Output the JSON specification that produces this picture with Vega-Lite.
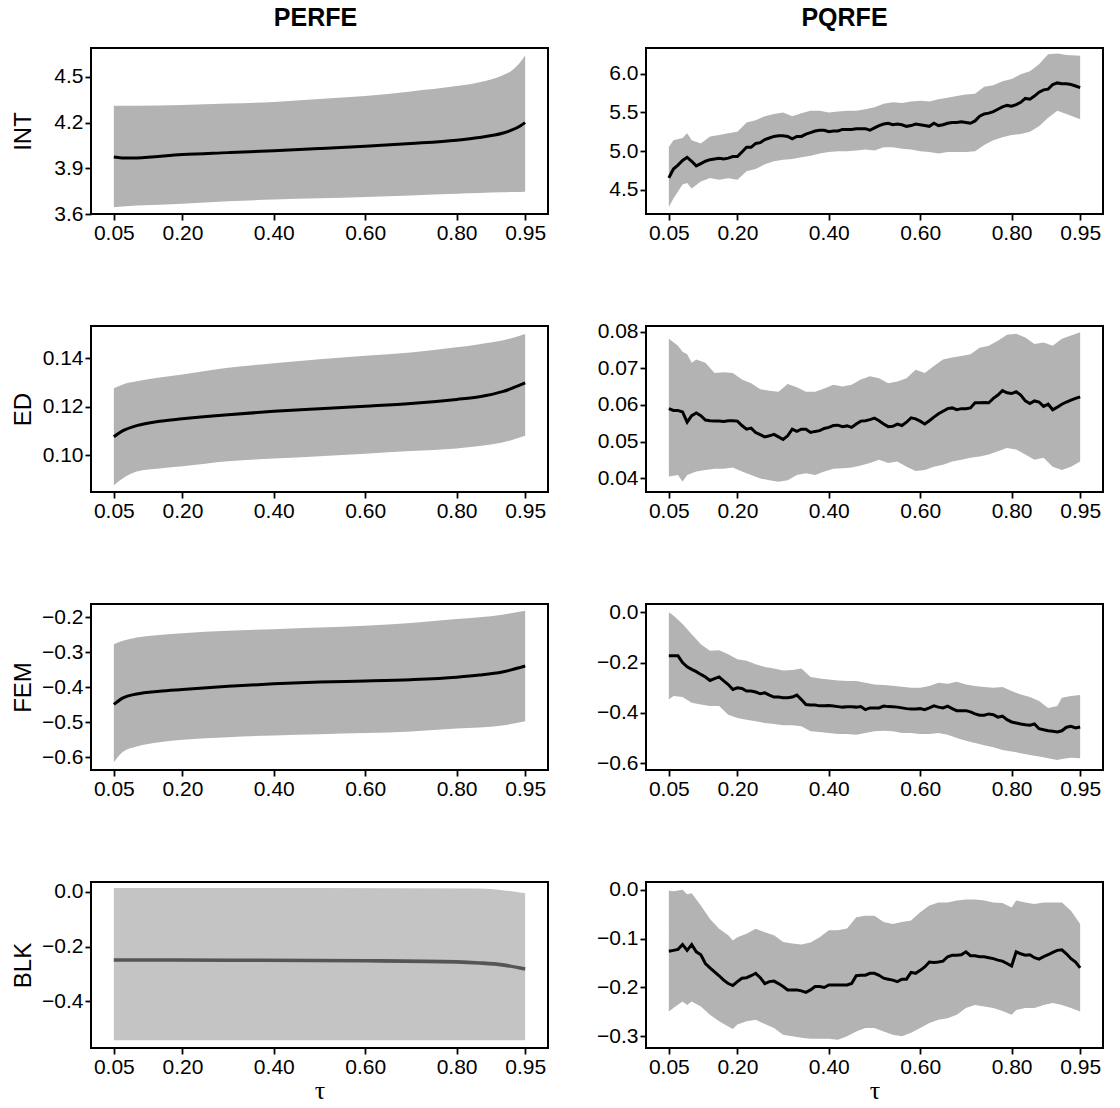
{
"$schema": "https://vega.github.io/schema/vega-lite/v6.json",
"padding": {"left": 10, "top": 5, "right": 5, "bottom": 3},
"bounds": "flush",
"columns": 2,
"spacing": {"row": 112, "column": 98},
"config": {
 "font": "Liberation Sans",
 "view": {"stroke": "black", "strokeWidth": 2},
 "axis": {"domain": false, "grid": false, "tickColor": "black", "tickSize": 6, "tickWidth": 1.8, "labelFont": "Liberation Sans", "labelFontSize": 21, "labelColor": "black", "labelFlush": false, "labelOverlap": false, "labelPadding": 2, "titleColor": "black", "titleFontWeight": "normal"},
 "axisY": {"titleFont": "Liberation Sans", "titleFontSize": 24, "titleX": -68, "titleY": 83, "titleBaseline": "middle", "titleAngle": 270, "titleAlign": "center"},
 "axisX": {"titleFont": "Liberation Serif", "titleFontSize": 26, "titlePadding": 0},
 "title": {"font": "Liberation Sans", "fontSize": 25, "fontWeight": "bold", "color": "black", "baseline": "alphabetic", "offset": 17}
},
"datasets": {
 "band": [
  {"panel":"IP","tau":0.05,"lo":3.645,"hi":4.31},{"panel":"IP","tau":0.1,"lo":3.655,"hi":4.31},{"panel":"IP","tau":0.2,"lo":3.668,"hi":4.315},{"panel":"IP","tau":0.3,"lo":3.683,"hi":4.325},{"panel":"IP","tau":0.4,"lo":3.695,"hi":4.335},{"panel":"IP","tau":0.5,"lo":3.703,"hi":4.355},{"panel":"IP","tau":0.6,"lo":3.712,"hi":4.375},{"panel":"IP","tau":0.7,"lo":3.722,"hi":4.405},{"panel":"IP","tau":0.8,"lo":3.733,"hi":4.44},{"panel":"IP","tau":0.85,"lo":3.738,"hi":4.465},{"panel":"IP","tau":0.9,"lo":3.742,"hi":4.51},{"panel":"IP","tau":0.92,"lo":3.744,"hi":4.54},{"panel":"IP","tau":0.94,"lo":3.745,"hi":4.6},{"panel":"IP","tau":0.95,"lo":3.746,"hi":4.64},
  {"panel":"EP","tau":0.05,"lo":0.0876,"hi":0.1276},{"panel":"EP","tau":0.07,"lo":0.0905,"hi":0.1292},{"panel":"EP","tau":0.1,"lo":0.0933,"hi":0.1305},{"panel":"EP","tau":0.15,"lo":0.0945,"hi":0.132},{"panel":"EP","tau":0.2,"lo":0.0954,"hi":0.1333},{"panel":"EP","tau":0.3,"lo":0.0975,"hi":0.1361},{"panel":"EP","tau":0.4,"lo":0.0986,"hi":0.1379},{"panel":"EP","tau":0.5,"lo":0.0996,"hi":0.1396},{"panel":"EP","tau":0.6,"lo":0.1006,"hi":0.141},{"panel":"EP","tau":0.7,"lo":0.1017,"hi":0.1424},{"panel":"EP","tau":0.8,"lo":0.1028,"hi":0.1445},{"panel":"EP","tau":0.85,"lo":0.1038,"hi":0.1458},{"panel":"EP","tau":0.9,"lo":0.1052,"hi":0.1473},{"panel":"EP","tau":0.95,"lo":0.108,"hi":0.15},
  {"panel":"FP","tau":0.05,"lo":-0.614,"hi":-0.2767},{"panel":"FP","tau":0.07,"lo":-0.584,"hi":-0.267},{"panel":"FP","tau":0.1,"lo":-0.569,"hi":-0.2575},{"panel":"FP","tau":0.15,"lo":-0.557,"hi":-0.25},{"panel":"FP","tau":0.2,"lo":-0.55,"hi":-0.245},{"panel":"FP","tau":0.3,"lo":-0.5425,"hi":-0.238},{"panel":"FP","tau":0.4,"lo":-0.5376,"hi":-0.2336},{"panel":"FP","tau":0.5,"lo":-0.534,"hi":-0.229},{"panel":"FP","tau":0.6,"lo":-0.531,"hi":-0.224},{"panel":"FP","tau":0.7,"lo":-0.526,"hi":-0.2163},{"panel":"FP","tau":0.8,"lo":-0.518,"hi":-0.2048},{"panel":"FP","tau":0.9,"lo":-0.509,"hi":-0.192},{"panel":"FP","tau":0.95,"lo":-0.497,"hi":-0.181},
  {"panel":"BP","tau":0.05,"lo":-0.543,"hi":0.014},{"panel":"BP","tau":0.5,"lo":-0.543,"hi":0.014},{"panel":"BP","tau":0.85,"lo":-0.543,"hi":0.012},{"panel":"BP","tau":0.9,"lo":-0.543,"hi":0.006},{"panel":"BP","tau":0.95,"lo":-0.543,"hi":-0.005},
  {"panel":"IQ","tau":0.05,"lo":4.28,"hi":5.055},{"panel":"IQ","tau":0.06,"lo":4.39,"hi":5.14},{"panel":"IQ","tau":0.08,"lo":4.57,"hi":5.17},{"panel":"IQ","tau":0.09,"lo":4.59,"hi":5.23},{"panel":"IQ","tau":0.1,"lo":4.52,"hi":5.14},{"panel":"IQ","tau":0.12,"lo":4.61,"hi":5.1},{"panel":"IQ","tau":0.14,"lo":4.655,"hi":5.19},{"panel":"IQ","tau":0.16,"lo":4.63,"hi":5.21},{"panel":"IQ","tau":0.18,"lo":4.65,"hi":5.23},{"panel":"IQ","tau":0.2,"lo":4.63,"hi":5.25},{"panel":"IQ","tau":0.22,"lo":4.74,"hi":5.37},{"panel":"IQ","tau":0.24,"lo":4.77,"hi":5.4},{"panel":"IQ","tau":0.26,"lo":4.83,"hi":5.45},{"panel":"IQ","tau":0.28,"lo":4.87,"hi":5.48},{"panel":"IQ","tau":0.3,"lo":4.89,"hi":5.5},{"panel":"IQ","tau":0.32,"lo":4.9,"hi":5.45},{"panel":"IQ","tau":0.34,"lo":4.92,"hi":5.49},{"panel":"IQ","tau":0.36,"lo":4.94,"hi":5.52},{"panel":"IQ","tau":0.38,"lo":4.97,"hi":5.52},{"panel":"IQ","tau":0.4,"lo":4.99,"hi":5.5},{"panel":"IQ","tau":0.42,"lo":5.0,"hi":5.51},{"panel":"IQ","tau":0.44,"lo":5.0,"hi":5.52},{"panel":"IQ","tau":0.46,"lo":5.01,"hi":5.52},{"panel":"IQ","tau":0.48,"lo":5.02,"hi":5.54},{"panel":"IQ","tau":0.5,"lo":5.01,"hi":5.565},{"panel":"IQ","tau":0.52,"lo":5.05,"hi":5.61},{"panel":"IQ","tau":0.54,"lo":5.05,"hi":5.63},{"panel":"IQ","tau":0.56,"lo":5.03,"hi":5.62},{"panel":"IQ","tau":0.58,"lo":5.02,"hi":5.64},{"panel":"IQ","tau":0.6,"lo":5.0,"hi":5.65},{"panel":"IQ","tau":0.62,"lo":4.99,"hi":5.64},{"panel":"IQ","tau":0.64,"lo":4.97,"hi":5.67},{"panel":"IQ","tau":0.66,"lo":4.99,"hi":5.69},{"panel":"IQ","tau":0.68,"lo":4.99,"hi":5.71},{"panel":"IQ","tau":0.7,"lo":4.99,"hi":5.73},{"panel":"IQ","tau":0.72,"lo":5.0,"hi":5.74},{"panel":"IQ","tau":0.74,"lo":5.08,"hi":5.83},{"panel":"IQ","tau":0.76,"lo":5.14,"hi":5.85},{"panel":"IQ","tau":0.78,"lo":5.18,"hi":5.9},{"panel":"IQ","tau":0.8,"lo":5.21,"hi":5.93},{"panel":"IQ","tau":0.82,"lo":5.22,"hi":5.99},{"panel":"IQ","tau":0.84,"lo":5.25,"hi":6.03},{"panel":"IQ","tau":0.86,"lo":5.32,"hi":6.12},{"panel":"IQ","tau":0.88,"lo":5.43,"hi":6.25},{"panel":"IQ","tau":0.9,"lo":5.52,"hi":6.26},{"panel":"IQ","tau":0.92,"lo":5.48,"hi":6.24},{"panel":"IQ","tau":0.95,"lo":5.41,"hi":6.23},
  {"panel":"EQ","tau":0.05,"lo":0.0405,"hi":0.078},{"panel":"EQ","tau":0.07,"lo":0.0409,"hi":0.0761},{"panel":"EQ","tau":0.08,"lo":0.0391,"hi":0.0745},{"panel":"EQ","tau":0.09,"lo":0.0409,"hi":0.0738},{"panel":"EQ","tau":0.1,"lo":0.0414,"hi":0.0715},{"panel":"EQ","tau":0.11,"lo":0.0419,"hi":0.0724},{"panel":"EQ","tau":0.13,"lo":0.0423,"hi":0.0715},{"panel":"EQ","tau":0.15,"lo":0.0426,"hi":0.0687},{"panel":"EQ","tau":0.17,"lo":0.0426,"hi":0.0689},{"panel":"EQ","tau":0.19,"lo":0.043,"hi":0.0687},{"panel":"EQ","tau":0.21,"lo":0.0419,"hi":0.0669},{"panel":"EQ","tau":0.23,"lo":0.0409,"hi":0.0659},{"panel":"EQ","tau":0.25,"lo":0.04,"hi":0.0643},{"panel":"EQ","tau":0.27,"lo":0.0395,"hi":0.0639},{"panel":"EQ","tau":0.29,"lo":0.0391,"hi":0.0636},{"panel":"EQ","tau":0.31,"lo":0.0395,"hi":0.0657},{"panel":"EQ","tau":0.33,"lo":0.0409,"hi":0.0648},{"panel":"EQ","tau":0.35,"lo":0.0414,"hi":0.0636},{"panel":"EQ","tau":0.37,"lo":0.0409,"hi":0.0636},{"panel":"EQ","tau":0.39,"lo":0.0419,"hi":0.0645},{"panel":"EQ","tau":0.41,"lo":0.0426,"hi":0.0655},{"panel":"EQ","tau":0.43,"lo":0.0428,"hi":0.065},{"panel":"EQ","tau":0.45,"lo":0.043,"hi":0.0655},{"panel":"EQ","tau":0.47,"lo":0.0435,"hi":0.0669},{"panel":"EQ","tau":0.49,"lo":0.0442,"hi":0.0678},{"panel":"EQ","tau":0.51,"lo":0.0451,"hi":0.0673},{"panel":"EQ","tau":0.53,"lo":0.0442,"hi":0.0659},{"panel":"EQ","tau":0.55,"lo":0.0446,"hi":0.0664},{"panel":"EQ","tau":0.57,"lo":0.0432,"hi":0.0673},{"panel":"EQ","tau":0.59,"lo":0.042,"hi":0.0696},{"panel":"EQ","tau":0.61,"lo":0.0423,"hi":0.0687},{"panel":"EQ","tau":0.63,"lo":0.0432,"hi":0.0706},{"panel":"EQ","tau":0.65,"lo":0.0437,"hi":0.0724},{"panel":"EQ","tau":0.67,"lo":0.0446,"hi":0.0729},{"panel":"EQ","tau":0.69,"lo":0.0451,"hi":0.0733},{"panel":"EQ","tau":0.71,"lo":0.0456,"hi":0.0738},{"panel":"EQ","tau":0.73,"lo":0.046,"hi":0.0756},{"panel":"EQ","tau":0.75,"lo":0.0465,"hi":0.0761},{"panel":"EQ","tau":0.77,"lo":0.0474,"hi":0.0775},{"panel":"EQ","tau":0.79,"lo":0.0483,"hi":0.0791},{"panel":"EQ","tau":0.81,"lo":0.0479,"hi":0.0794},{"panel":"EQ","tau":0.83,"lo":0.0465,"hi":0.0784},{"panel":"EQ","tau":0.85,"lo":0.0451,"hi":0.0766},{"panel":"EQ","tau":0.87,"lo":0.0456,"hi":0.077},{"panel":"EQ","tau":0.89,"lo":0.0432,"hi":0.0761},{"panel":"EQ","tau":0.91,"lo":0.0423,"hi":0.078},{"panel":"EQ","tau":0.93,"lo":0.0432,"hi":0.0789},{"panel":"EQ","tau":0.95,"lo":0.0446,"hi":0.0798},
  {"panel":"FQ","tau":0.05,"lo":-0.347,"hi":0.0},{"panel":"FQ","tau":0.06,"lo":-0.333,"hi":-0.013},{"panel":"FQ","tau":0.08,"lo":-0.337,"hi":-0.047},{"panel":"FQ","tau":0.1,"lo":-0.36,"hi":-0.087},{"panel":"FQ","tau":0.12,"lo":-0.367,"hi":-0.127},{"panel":"FQ","tau":0.14,"lo":-0.373,"hi":-0.153},{"panel":"FQ","tau":0.16,"lo":-0.373,"hi":-0.151},{"panel":"FQ","tau":0.18,"lo":-0.407,"hi":-0.167},{"panel":"FQ","tau":0.2,"lo":-0.42,"hi":-0.187},{"panel":"FQ","tau":0.22,"lo":-0.427,"hi":-0.193},{"panel":"FQ","tau":0.24,"lo":-0.433,"hi":-0.207},{"panel":"FQ","tau":0.26,"lo":-0.44,"hi":-0.217},{"panel":"FQ","tau":0.28,"lo":-0.444,"hi":-0.223},{"panel":"FQ","tau":0.3,"lo":-0.449,"hi":-0.231},{"panel":"FQ","tau":0.32,"lo":-0.449,"hi":-0.229},{"panel":"FQ","tau":0.34,"lo":-0.453,"hi":-0.223},{"panel":"FQ","tau":0.36,"lo":-0.473,"hi":-0.257},{"panel":"FQ","tau":0.38,"lo":-0.476,"hi":-0.263},{"panel":"FQ","tau":0.4,"lo":-0.48,"hi":-0.267},{"panel":"FQ","tau":0.42,"lo":-0.484,"hi":-0.271},{"panel":"FQ","tau":0.44,"lo":-0.484,"hi":-0.273},{"panel":"FQ","tau":0.46,"lo":-0.487,"hi":-0.273},{"panel":"FQ","tau":0.48,"lo":-0.48,"hi":-0.28},{"panel":"FQ","tau":0.5,"lo":-0.473,"hi":-0.287},{"panel":"FQ","tau":0.52,"lo":-0.471,"hi":-0.289},{"panel":"FQ","tau":0.54,"lo":-0.473,"hi":-0.292},{"panel":"FQ","tau":0.56,"lo":-0.48,"hi":-0.296},{"panel":"FQ","tau":0.58,"lo":-0.48,"hi":-0.3},{"panel":"FQ","tau":0.6,"lo":-0.484,"hi":-0.3},{"panel":"FQ","tau":0.62,"lo":-0.484,"hi":-0.293},{"panel":"FQ","tau":0.64,"lo":-0.48,"hi":-0.28},{"panel":"FQ","tau":0.66,"lo":-0.487,"hi":-0.284},{"panel":"FQ","tau":0.68,"lo":-0.5,"hi":-0.276},{"panel":"FQ","tau":0.7,"lo":-0.511,"hi":-0.287},{"panel":"FQ","tau":0.72,"lo":-0.52,"hi":-0.293},{"panel":"FQ","tau":0.74,"lo":-0.529,"hi":-0.297},{"panel":"FQ","tau":0.76,"lo":-0.537,"hi":-0.3},{"panel":"FQ","tau":0.78,"lo":-0.547,"hi":-0.297},{"panel":"FQ","tau":0.8,"lo":-0.553,"hi":-0.313},{"panel":"FQ","tau":0.82,"lo":-0.56,"hi":-0.327},{"panel":"FQ","tau":0.84,"lo":-0.567,"hi":-0.337},{"panel":"FQ","tau":0.86,"lo":-0.573,"hi":-0.353},{"panel":"FQ","tau":0.88,"lo":-0.58,"hi":-0.38},{"panel":"FQ","tau":0.9,"lo":-0.587,"hi":-0.373},{"panel":"FQ","tau":0.91,"lo":-0.583,"hi":-0.34},{"panel":"FQ","tau":0.93,"lo":-0.578,"hi":-0.333},{"panel":"FQ","tau":0.95,"lo":-0.58,"hi":-0.329},
  {"panel":"BQ","tau":0.05,"lo":-0.249,"hi":-0.002},{"panel":"BQ","tau":0.06,"lo":-0.242,"hi":-0.003},{"panel":"BQ","tau":0.08,"lo":-0.229,"hi":0.0},{"panel":"BQ","tau":0.09,"lo":-0.236,"hi":-0.009},{"panel":"BQ","tau":0.1,"lo":-0.229,"hi":-0.007},{"panel":"BQ","tau":0.12,"lo":-0.239,"hi":-0.032},{"panel":"BQ","tau":0.14,"lo":-0.256,"hi":-0.06},{"panel":"BQ","tau":0.16,"lo":-0.269,"hi":-0.08},{"panel":"BQ","tau":0.18,"lo":-0.28,"hi":-0.093},{"panel":"BQ","tau":0.19,"lo":-0.285,"hi":-0.104},{"panel":"BQ","tau":0.2,"lo":-0.276,"hi":-0.097},{"panel":"BQ","tau":0.22,"lo":-0.269,"hi":-0.09},{"panel":"BQ","tau":0.24,"lo":-0.266,"hi":-0.08},{"panel":"BQ","tau":0.26,"lo":-0.275,"hi":-0.087},{"panel":"BQ","tau":0.28,"lo":-0.283,"hi":-0.093},{"panel":"BQ","tau":0.3,"lo":-0.297,"hi":-0.107},{"panel":"BQ","tau":0.32,"lo":-0.3,"hi":-0.11},{"panel":"BQ","tau":0.34,"lo":-0.303,"hi":-0.112},{"panel":"BQ","tau":0.36,"lo":-0.305,"hi":-0.108},{"panel":"BQ","tau":0.38,"lo":-0.305,"hi":-0.097},{"panel":"BQ","tau":0.4,"lo":-0.305,"hi":-0.083},{"panel":"BQ","tau":0.42,"lo":-0.307,"hi":-0.083},{"panel":"BQ","tau":0.44,"lo":-0.3,"hi":-0.079},{"panel":"BQ","tau":0.46,"lo":-0.29,"hi":-0.056},{"panel":"BQ","tau":0.48,"lo":-0.283,"hi":-0.053},{"panel":"BQ","tau":0.5,"lo":-0.283,"hi":-0.053},{"panel":"BQ","tau":0.52,"lo":-0.29,"hi":-0.066},{"panel":"BQ","tau":0.54,"lo":-0.297,"hi":-0.07},{"panel":"BQ","tau":0.56,"lo":-0.3,"hi":-0.066},{"panel":"BQ","tau":0.58,"lo":-0.293,"hi":-0.063},{"panel":"BQ","tau":0.6,"lo":-0.283,"hi":-0.046},{"panel":"BQ","tau":0.62,"lo":-0.273,"hi":-0.032},{"panel":"BQ","tau":0.64,"lo":-0.266,"hi":-0.026},{"panel":"BQ","tau":0.66,"lo":-0.263,"hi":-0.026},{"panel":"BQ","tau":0.68,"lo":-0.256,"hi":-0.022},{"panel":"BQ","tau":0.7,"lo":-0.242,"hi":-0.02},{"panel":"BQ","tau":0.72,"lo":-0.236,"hi":-0.02},{"panel":"BQ","tau":0.74,"lo":-0.239,"hi":-0.022},{"panel":"BQ","tau":0.76,"lo":-0.242,"hi":-0.026},{"panel":"BQ","tau":0.78,"lo":-0.248,"hi":-0.027},{"panel":"BQ","tau":0.8,"lo":-0.256,"hi":-0.036},{"panel":"BQ","tau":0.81,"lo":-0.246,"hi":-0.022},{"panel":"BQ","tau":0.83,"lo":-0.242,"hi":-0.026},{"panel":"BQ","tau":0.85,"lo":-0.242,"hi":-0.029},{"panel":"BQ","tau":0.87,"lo":-0.236,"hi":-0.026},{"panel":"BQ","tau":0.89,"lo":-0.232,"hi":-0.026},{"panel":"BQ","tau":0.91,"lo":-0.236,"hi":-0.026},{"panel":"BQ","tau":0.93,"lo":-0.242,"hi":-0.043},{"panel":"BQ","tau":0.95,"lo":-0.249,"hi":-0.07}
 ],
 "line": [
  {"panel":"IP","tau":0.05,"est":3.975},{"panel":"IP","tau":0.08,"est":3.967},{"panel":"IP","tau":0.1,"est":3.968},{"panel":"IP","tau":0.2,"est":3.99},{"panel":"IP","tau":0.3,"est":4.003},{"panel":"IP","tau":0.4,"est":4.016},{"panel":"IP","tau":0.5,"est":4.03},{"panel":"IP","tau":0.6,"est":4.045},{"panel":"IP","tau":0.7,"est":4.063},{"panel":"IP","tau":0.8,"est":4.085},{"panel":"IP","tau":0.85,"est":4.103},{"panel":"IP","tau":0.9,"est":4.13},{"panel":"IP","tau":0.92,"est":4.15},{"panel":"IP","tau":0.94,"est":4.18},{"panel":"IP","tau":0.95,"est":4.2},
  {"panel":"EP","tau":0.05,"est":0.1076},{"panel":"EP","tau":0.07,"est":0.1101},{"panel":"EP","tau":0.1,"est":0.1122},{"panel":"EP","tau":0.15,"est":0.114},{"panel":"EP","tau":0.2,"est":0.115},{"panel":"EP","tau":0.3,"est":0.1167},{"panel":"EP","tau":0.4,"est":0.1181},{"panel":"EP","tau":0.5,"est":0.1192},{"panel":"EP","tau":0.6,"est":0.1202},{"panel":"EP","tau":0.7,"est":0.1213},{"panel":"EP","tau":0.8,"est":0.123},{"panel":"EP","tau":0.85,"est":0.1241},{"panel":"EP","tau":0.9,"est":0.1262},{"panel":"EP","tau":0.95,"est":0.1298},
  {"panel":"FP","tau":0.05,"est":-0.449},{"panel":"FP","tau":0.07,"est":-0.43},{"panel":"FP","tau":0.1,"est":-0.419},{"panel":"FP","tau":0.15,"est":-0.411},{"panel":"FP","tau":0.2,"est":-0.406},{"panel":"FP","tau":0.3,"est":-0.397},{"panel":"FP","tau":0.4,"est":-0.39},{"panel":"FP","tau":0.5,"est":-0.385},{"panel":"FP","tau":0.6,"est":-0.382},{"panel":"FP","tau":0.7,"est":-0.378},{"panel":"FP","tau":0.8,"est":-0.371},{"panel":"FP","tau":0.85,"est":-0.365},{"panel":"FP","tau":0.9,"est":-0.356},{"panel":"FP","tau":0.95,"est":-0.339},
  {"panel":"BP","tau":0.05,"est":-0.249},{"panel":"BP","tau":0.3,"est":-0.25},{"panel":"BP","tau":0.6,"est":-0.252},{"panel":"BP","tau":0.8,"est":-0.256},{"panel":"BP","tau":0.85,"est":-0.26},{"panel":"BP","tau":0.9,"est":-0.267},{"panel":"BP","tau":0.95,"est":-0.282},
  {"panel":"IQ","tau":0.05,"est":4.655},{"panel":"IQ","tau":0.06,"est":4.77},{"panel":"IQ","tau":0.07,"est":4.82},{"panel":"IQ","tau":0.08,"est":4.88},{"panel":"IQ","tau":0.09,"est":4.92},{"panel":"IQ","tau":0.1,"est":4.87},{"panel":"IQ","tau":0.11,"est":4.81},{"panel":"IQ","tau":0.12,"est":4.84},{"panel":"IQ","tau":0.13,"est":4.87},{"panel":"IQ","tau":0.14,"est":4.89},{"panel":"IQ","tau":0.15,"est":4.9},{"panel":"IQ","tau":0.16,"est":4.91},{"panel":"IQ","tau":0.17,"est":4.9},{"panel":"IQ","tau":0.18,"est":4.91},{"panel":"IQ","tau":0.19,"est":4.93},{"panel":"IQ","tau":0.2,"est":4.93},{"panel":"IQ","tau":0.21,"est":4.99},{"panel":"IQ","tau":0.22,"est":5.05},{"panel":"IQ","tau":0.23,"est":5.05},{"panel":"IQ","tau":0.24,"est":5.1},{"panel":"IQ","tau":0.25,"est":5.11},{"panel":"IQ","tau":0.26,"est":5.15},{"panel":"IQ","tau":0.27,"est":5.17},{"panel":"IQ","tau":0.28,"est":5.19},{"panel":"IQ","tau":0.29,"est":5.2},{"panel":"IQ","tau":0.3,"est":5.2},{"panel":"IQ","tau":0.31,"est":5.19},{"panel":"IQ","tau":0.32,"est":5.16},{"panel":"IQ","tau":0.33,"est":5.19},{"panel":"IQ","tau":0.34,"est":5.19},{"panel":"IQ","tau":0.35,"est":5.22},{"panel":"IQ","tau":0.36,"est":5.24},{"panel":"IQ","tau":0.37,"est":5.26},{"panel":"IQ","tau":0.38,"est":5.27},{"panel":"IQ","tau":0.39,"est":5.27},{"panel":"IQ","tau":0.4,"est":5.25},{"panel":"IQ","tau":0.41,"est":5.26},{"panel":"IQ","tau":0.42,"est":5.26},{"panel":"IQ","tau":0.43,"est":5.28},{"panel":"IQ","tau":0.44,"est":5.28},{"panel":"IQ","tau":0.45,"est":5.28},{"panel":"IQ","tau":0.46,"est":5.29},{"panel":"IQ","tau":0.47,"est":5.29},{"panel":"IQ","tau":0.48,"est":5.29},{"panel":"IQ","tau":0.49,"est":5.27},{"panel":"IQ","tau":0.5,"est":5.3},{"panel":"IQ","tau":0.51,"est":5.33},{"panel":"IQ","tau":0.52,"est":5.35},{"panel":"IQ","tau":0.53,"est":5.36},{"panel":"IQ","tau":0.54,"est":5.34},{"panel":"IQ","tau":0.55,"est":5.35},{"panel":"IQ","tau":0.56,"est":5.34},{"panel":"IQ","tau":0.57,"est":5.32},{"panel":"IQ","tau":0.58,"est":5.33},{"panel":"IQ","tau":0.59,"est":5.35},{"panel":"IQ","tau":0.6,"est":5.34},{"panel":"IQ","tau":0.61,"est":5.33},{"panel":"IQ","tau":0.62,"est":5.32},{"panel":"IQ","tau":0.63,"est":5.36},{"panel":"IQ","tau":0.64,"est":5.33},{"panel":"IQ","tau":0.65,"est":5.34},{"panel":"IQ","tau":0.66,"est":5.36},{"panel":"IQ","tau":0.67,"est":5.37},{"panel":"IQ","tau":0.68,"est":5.37},{"panel":"IQ","tau":0.69,"est":5.38},{"panel":"IQ","tau":0.7,"est":5.37},{"panel":"IQ","tau":0.71,"est":5.36},{"panel":"IQ","tau":0.72,"est":5.39},{"panel":"IQ","tau":0.73,"est":5.45},{"panel":"IQ","tau":0.74,"est":5.48},{"panel":"IQ","tau":0.75,"est":5.49},{"panel":"IQ","tau":0.76,"est":5.51},{"panel":"IQ","tau":0.77,"est":5.54},{"panel":"IQ","tau":0.78,"est":5.57},{"panel":"IQ","tau":0.79,"est":5.59},{"panel":"IQ","tau":0.8,"est":5.58},{"panel":"IQ","tau":0.81,"est":5.6},{"panel":"IQ","tau":0.82,"est":5.63},{"panel":"IQ","tau":0.83,"est":5.68},{"panel":"IQ","tau":0.84,"est":5.67},{"panel":"IQ","tau":0.85,"est":5.71},{"panel":"IQ","tau":0.86,"est":5.76},{"panel":"IQ","tau":0.87,"est":5.79},{"panel":"IQ","tau":0.88,"est":5.8},{"panel":"IQ","tau":0.89,"est":5.86},{"panel":"IQ","tau":0.9,"est":5.88},{"panel":"IQ","tau":0.91,"est":5.87},{"panel":"IQ","tau":0.92,"est":5.87},{"panel":"IQ","tau":0.93,"est":5.86},{"panel":"IQ","tau":0.94,"est":5.84},{"panel":"IQ","tau":0.95,"est":5.82},
  {"panel":"EQ","tau":0.05,"est":0.059},{"panel":"EQ","tau":0.06,"est":0.0585},{"panel":"EQ","tau":0.07,"est":0.0585},{"panel":"EQ","tau":0.08,"est":0.0581},{"panel":"EQ","tau":0.09,"est":0.0553},{"panel":"EQ","tau":0.1,"est":0.0571},{"panel":"EQ","tau":0.11,"est":0.0578},{"panel":"EQ","tau":0.12,"est":0.0571},{"panel":"EQ","tau":0.13,"est":0.0559},{"panel":"EQ","tau":0.14,"est":0.0557},{"panel":"EQ","tau":0.15,"est":0.0556},{"panel":"EQ","tau":0.16,"est":0.0556},{"panel":"EQ","tau":0.17,"est":0.0555},{"panel":"EQ","tau":0.18,"est":0.0557},{"panel":"EQ","tau":0.19,"est":0.0557},{"panel":"EQ","tau":0.2,"est":0.0556},{"panel":"EQ","tau":0.21,"est":0.0544},{"panel":"EQ","tau":0.22,"est":0.0534},{"panel":"EQ","tau":0.23,"est":0.0537},{"panel":"EQ","tau":0.24,"est":0.0525},{"panel":"EQ","tau":0.25,"est":0.0519},{"panel":"EQ","tau":0.26,"est":0.0513},{"panel":"EQ","tau":0.27,"est":0.0516},{"panel":"EQ","tau":0.28,"est":0.052},{"panel":"EQ","tau":0.29,"est":0.0513},{"panel":"EQ","tau":0.3,"est":0.0506},{"panel":"EQ","tau":0.31,"est":0.0516},{"panel":"EQ","tau":0.32,"est":0.0534},{"panel":"EQ","tau":0.33,"est":0.0528},{"panel":"EQ","tau":0.34,"est":0.0534},{"panel":"EQ","tau":0.35,"est":0.0534},{"panel":"EQ","tau":0.36,"est":0.0525},{"panel":"EQ","tau":0.37,"est":0.0528},{"panel":"EQ","tau":0.38,"est":0.053},{"panel":"EQ","tau":0.39,"est":0.0536},{"panel":"EQ","tau":0.4,"est":0.0539},{"panel":"EQ","tau":0.41,"est":0.0544},{"panel":"EQ","tau":0.42,"est":0.0545},{"panel":"EQ","tau":0.43,"est":0.0541},{"panel":"EQ","tau":0.44,"est":0.0543},{"panel":"EQ","tau":0.45,"est":0.0539},{"panel":"EQ","tau":0.46,"est":0.0548},{"panel":"EQ","tau":0.47,"est":0.0556},{"panel":"EQ","tau":0.48,"est":0.0557},{"panel":"EQ","tau":0.49,"est":0.056},{"panel":"EQ","tau":0.5,"est":0.0564},{"panel":"EQ","tau":0.51,"est":0.0557},{"panel":"EQ","tau":0.52,"est":0.0548},{"panel":"EQ","tau":0.53,"est":0.0541},{"panel":"EQ","tau":0.54,"est":0.0542},{"panel":"EQ","tau":0.55,"est":0.0548},{"panel":"EQ","tau":0.56,"est":0.0544},{"panel":"EQ","tau":0.57,"est":0.0553},{"panel":"EQ","tau":0.58,"est":0.0565},{"panel":"EQ","tau":0.59,"est":0.0562},{"panel":"EQ","tau":0.6,"est":0.0556},{"panel":"EQ","tau":0.61,"est":0.0548},{"panel":"EQ","tau":0.62,"est":0.0557},{"panel":"EQ","tau":0.63,"est":0.0567},{"panel":"EQ","tau":0.64,"est":0.0576},{"panel":"EQ","tau":0.65,"est":0.0583},{"panel":"EQ","tau":0.66,"est":0.059},{"panel":"EQ","tau":0.67,"est":0.0592},{"panel":"EQ","tau":0.68,"est":0.0587},{"panel":"EQ","tau":0.69,"est":0.059},{"panel":"EQ","tau":0.7,"est":0.059},{"panel":"EQ","tau":0.71,"est":0.0592},{"panel":"EQ","tau":0.72,"est":0.0606},{"panel":"EQ","tau":0.73,"est":0.0606},{"panel":"EQ","tau":0.74,"est":0.0607},{"panel":"EQ","tau":0.75,"est":0.0606},{"panel":"EQ","tau":0.76,"est":0.0618},{"panel":"EQ","tau":0.77,"est":0.0627},{"panel":"EQ","tau":0.78,"est":0.0639},{"panel":"EQ","tau":0.79,"est":0.0633},{"panel":"EQ","tau":0.8,"est":0.0631},{"panel":"EQ","tau":0.81,"est":0.0636},{"panel":"EQ","tau":0.82,"est":0.0627},{"panel":"EQ","tau":0.83,"est":0.0611},{"panel":"EQ","tau":0.84,"est":0.0604},{"panel":"EQ","tau":0.85,"est":0.0611},{"panel":"EQ","tau":0.86,"est":0.0608},{"panel":"EQ","tau":0.87,"est":0.0596},{"panel":"EQ","tau":0.88,"est":0.0602},{"panel":"EQ","tau":0.89,"est":0.0587},{"panel":"EQ","tau":0.9,"est":0.0594},{"panel":"EQ","tau":0.91,"est":0.0602},{"panel":"EQ","tau":0.92,"est":0.0608},{"panel":"EQ","tau":0.93,"est":0.0613},{"panel":"EQ","tau":0.94,"est":0.0618},{"panel":"EQ","tau":0.95,"est":0.0622},
  {"panel":"FQ","tau":0.05,"est":-0.173},{"panel":"FQ","tau":0.06,"est":-0.173},{"panel":"FQ","tau":0.07,"est":-0.173},{"panel":"FQ","tau":0.08,"est":-0.2},{"panel":"FQ","tau":0.09,"est":-0.217},{"panel":"FQ","tau":0.1,"est":-0.227},{"panel":"FQ","tau":0.11,"est":-0.236},{"panel":"FQ","tau":0.12,"est":-0.247},{"panel":"FQ","tau":0.13,"est":-0.257},{"panel":"FQ","tau":0.14,"est":-0.271},{"panel":"FQ","tau":0.15,"est":-0.264},{"panel":"FQ","tau":0.16,"est":-0.257},{"panel":"FQ","tau":0.17,"est":-0.273},{"panel":"FQ","tau":0.18,"est":-0.287},{"panel":"FQ","tau":0.19,"est":-0.307},{"panel":"FQ","tau":0.2,"est":-0.3},{"panel":"FQ","tau":0.21,"est":-0.303},{"panel":"FQ","tau":0.22,"est":-0.313},{"panel":"FQ","tau":0.23,"est":-0.313},{"panel":"FQ","tau":0.24,"est":-0.317},{"panel":"FQ","tau":0.25,"est":-0.324},{"panel":"FQ","tau":0.26,"est":-0.32},{"panel":"FQ","tau":0.27,"est":-0.329},{"panel":"FQ","tau":0.28,"est":-0.337},{"panel":"FQ","tau":0.29,"est":-0.337},{"panel":"FQ","tau":0.3,"est":-0.34},{"panel":"FQ","tau":0.31,"est":-0.34},{"panel":"FQ","tau":0.32,"est":-0.337},{"panel":"FQ","tau":0.33,"est":-0.329},{"panel":"FQ","tau":0.34,"est":-0.347},{"panel":"FQ","tau":0.35,"est":-0.367},{"panel":"FQ","tau":0.36,"est":-0.369},{"panel":"FQ","tau":0.37,"est":-0.369},{"panel":"FQ","tau":0.38,"est":-0.372},{"panel":"FQ","tau":0.39,"est":-0.372},{"panel":"FQ","tau":0.4,"est":-0.371},{"panel":"FQ","tau":0.41,"est":-0.373},{"panel":"FQ","tau":0.42,"est":-0.375},{"panel":"FQ","tau":0.43,"est":-0.377},{"panel":"FQ","tau":0.44,"est":-0.376},{"panel":"FQ","tau":0.45,"est":-0.376},{"panel":"FQ","tau":0.46,"est":-0.377},{"panel":"FQ","tau":0.47,"est":-0.375},{"panel":"FQ","tau":0.48,"est":-0.387},{"panel":"FQ","tau":0.49,"est":-0.38},{"panel":"FQ","tau":0.5,"est":-0.38},{"panel":"FQ","tau":0.51,"est":-0.38},{"panel":"FQ","tau":0.52,"est":-0.373},{"panel":"FQ","tau":0.53,"est":-0.375},{"panel":"FQ","tau":0.54,"est":-0.376},{"panel":"FQ","tau":0.55,"est":-0.377},{"panel":"FQ","tau":0.56,"est":-0.38},{"panel":"FQ","tau":0.57,"est":-0.383},{"panel":"FQ","tau":0.58,"est":-0.384},{"panel":"FQ","tau":0.59,"est":-0.384},{"panel":"FQ","tau":0.6,"est":-0.383},{"panel":"FQ","tau":0.61,"est":-0.387},{"panel":"FQ","tau":0.62,"est":-0.38},{"panel":"FQ","tau":0.63,"est":-0.372},{"panel":"FQ","tau":0.64,"est":-0.377},{"panel":"FQ","tau":0.65,"est":-0.38},{"panel":"FQ","tau":0.66,"est":-0.373},{"panel":"FQ","tau":0.67,"est":-0.383},{"panel":"FQ","tau":0.68,"est":-0.391},{"panel":"FQ","tau":0.69,"est":-0.391},{"panel":"FQ","tau":0.7,"est":-0.391},{"panel":"FQ","tau":0.71,"est":-0.396},{"panel":"FQ","tau":0.72,"est":-0.404},{"panel":"FQ","tau":0.73,"est":-0.409},{"panel":"FQ","tau":0.74,"est":-0.409},{"panel":"FQ","tau":0.75,"est":-0.404},{"panel":"FQ","tau":0.76,"est":-0.407},{"panel":"FQ","tau":0.77,"est":-0.417},{"panel":"FQ","tau":0.78,"est":-0.413},{"panel":"FQ","tau":0.79,"est":-0.427},{"panel":"FQ","tau":0.8,"est":-0.436},{"panel":"FQ","tau":0.81,"est":-0.44},{"panel":"FQ","tau":0.82,"est":-0.444},{"panel":"FQ","tau":0.83,"est":-0.447},{"panel":"FQ","tau":0.84,"est":-0.449},{"panel":"FQ","tau":0.85,"est":-0.444},{"panel":"FQ","tau":0.86,"est":-0.463},{"panel":"FQ","tau":0.87,"est":-0.467},{"panel":"FQ","tau":0.88,"est":-0.471},{"panel":"FQ","tau":0.89,"est":-0.473},{"panel":"FQ","tau":0.9,"est":-0.476},{"panel":"FQ","tau":0.91,"est":-0.471},{"panel":"FQ","tau":0.92,"est":-0.457},{"panel":"FQ","tau":0.93,"est":-0.453},{"panel":"FQ","tau":0.94,"est":-0.46},{"panel":"FQ","tau":0.95,"est":-0.456},
  {"panel":"BQ","tau":0.05,"est":-0.126},{"panel":"BQ","tau":0.06,"est":-0.124},{"panel":"BQ","tau":0.07,"est":-0.122},{"panel":"BQ","tau":0.08,"est":-0.112},{"panel":"BQ","tau":0.09,"est":-0.124},{"panel":"BQ","tau":0.1,"est":-0.112},{"panel":"BQ","tau":0.11,"est":-0.127},{"panel":"BQ","tau":0.12,"est":-0.133},{"panel":"BQ","tau":0.13,"est":-0.151},{"panel":"BQ","tau":0.14,"est":-0.16},{"panel":"BQ","tau":0.15,"est":-0.168},{"panel":"BQ","tau":0.16,"est":-0.176},{"panel":"BQ","tau":0.17,"est":-0.185},{"panel":"BQ","tau":0.18,"est":-0.192},{"panel":"BQ","tau":0.19,"est":-0.196},{"panel":"BQ","tau":0.2,"est":-0.188},{"panel":"BQ","tau":0.21,"est":-0.181},{"panel":"BQ","tau":0.22,"est":-0.18},{"panel":"BQ","tau":0.23,"est":-0.176},{"panel":"BQ","tau":0.24,"est":-0.171},{"panel":"BQ","tau":0.25,"est":-0.18},{"panel":"BQ","tau":0.26,"est":-0.192},{"panel":"BQ","tau":0.27,"est":-0.188},{"panel":"BQ","tau":0.28,"est":-0.187},{"panel":"BQ","tau":0.29,"est":-0.192},{"panel":"BQ","tau":0.3,"est":-0.198},{"panel":"BQ","tau":0.31,"est":-0.205},{"panel":"BQ","tau":0.32,"est":-0.205},{"panel":"BQ","tau":0.33,"est":-0.205},{"panel":"BQ","tau":0.34,"est":-0.207},{"panel":"BQ","tau":0.35,"est":-0.21},{"panel":"BQ","tau":0.36,"est":-0.205},{"panel":"BQ","tau":0.37,"est":-0.198},{"panel":"BQ","tau":0.38,"est":-0.198},{"panel":"BQ","tau":0.39,"est":-0.2},{"panel":"BQ","tau":0.4,"est":-0.195},{"panel":"BQ","tau":0.41,"est":-0.195},{"panel":"BQ","tau":0.42,"est":-0.195},{"panel":"BQ","tau":0.43,"est":-0.195},{"panel":"BQ","tau":0.44,"est":-0.195},{"panel":"BQ","tau":0.45,"est":-0.192},{"panel":"BQ","tau":0.46,"est":-0.176},{"panel":"BQ","tau":0.47,"est":-0.175},{"panel":"BQ","tau":0.48,"est":-0.175},{"panel":"BQ","tau":0.49,"est":-0.171},{"panel":"BQ","tau":0.5,"est":-0.171},{"panel":"BQ","tau":0.51,"est":-0.175},{"panel":"BQ","tau":0.52,"est":-0.181},{"panel":"BQ","tau":0.53,"est":-0.183},{"panel":"BQ","tau":0.54,"est":-0.185},{"panel":"BQ","tau":0.55,"est":-0.188},{"panel":"BQ","tau":0.56,"est":-0.183},{"panel":"BQ","tau":0.57,"est":-0.183},{"panel":"BQ","tau":0.58,"est":-0.169},{"panel":"BQ","tau":0.59,"est":-0.171},{"panel":"BQ","tau":0.6,"est":-0.165},{"panel":"BQ","tau":0.61,"est":-0.158},{"panel":"BQ","tau":0.62,"est":-0.148},{"panel":"BQ","tau":0.63,"est":-0.149},{"panel":"BQ","tau":0.64,"est":-0.148},{"panel":"BQ","tau":0.65,"est":-0.146},{"panel":"BQ","tau":0.66,"est":-0.137},{"panel":"BQ","tau":0.67,"est":-0.134},{"panel":"BQ","tau":0.68,"est":-0.134},{"panel":"BQ","tau":0.69,"est":-0.133},{"panel":"BQ","tau":0.7,"est":-0.127},{"panel":"BQ","tau":0.71,"est":-0.135},{"panel":"BQ","tau":0.72,"est":-0.135},{"panel":"BQ","tau":0.73,"est":-0.137},{"panel":"BQ","tau":0.74,"est":-0.137},{"panel":"BQ","tau":0.75,"est":-0.139},{"panel":"BQ","tau":0.76,"est":-0.141},{"panel":"BQ","tau":0.77,"est":-0.144},{"panel":"BQ","tau":0.78,"est":-0.146},{"panel":"BQ","tau":0.79,"est":-0.151},{"panel":"BQ","tau":0.8,"est":-0.156},{"panel":"BQ","tau":0.81,"est":-0.127},{"panel":"BQ","tau":0.82,"est":-0.131},{"panel":"BQ","tau":0.83,"est":-0.134},{"panel":"BQ","tau":0.84,"est":-0.133},{"panel":"BQ","tau":0.85,"est":-0.139},{"panel":"BQ","tau":0.86,"est":-0.142},{"panel":"BQ","tau":0.87,"est":-0.137},{"panel":"BQ","tau":0.88,"est":-0.133},{"panel":"BQ","tau":0.89,"est":-0.128},{"panel":"BQ","tau":0.9,"est":-0.124},{"panel":"BQ","tau":0.91,"est":-0.123},{"panel":"BQ","tau":0.92,"est":-0.131},{"panel":"BQ","tau":0.93,"est":-0.141},{"panel":"BQ","tau":0.94,"est":-0.148},{"panel":"BQ","tau":0.95,"est":-0.16}
 ]
},
"concat": [
 {"width": 457, "height": 166, "title": {"text": "PERFE", "dx": -4},
  "layer": [
   {"data": {"name": "band"}, "transform": [{"filter": "datum.panel === 'IP'"}], "mark": {"type": "area", "color": "#b3b3b3", "interpolate": "monotone", "clip": true},
    "encoding": {"x": {"field": "tau", "type": "quantitative", "title": null, "scale": {"domain": [0.005, 0.996]}, "axis": {"values": [0.05, 0.2, 0.4, 0.6, 0.8, 0.95], "format": ".2f"}},
     "y": {"field": "lo", "type": "quantitative", "title": "INT", "scale": {"domain": [3.6, 4.69], "zero": false, "nice": false}, "axis": {"values": [3.6, 3.9, 4.2, 4.5], "format": ".1f"}}, "y2": {"field": "hi"}}},
   {"data": {"name": "line"}, "transform": [{"filter": "datum.panel === 'IP'"}], "mark": {"type": "line", "color": "black", "strokeWidth": 3, "interpolate": "monotone", "clip": true},
    "encoding": {"x": {"field": "tau", "type": "quantitative", "title": null}, "y": {"field": "est", "type": "quantitative", "title": "INT"}}}
  ]},
 {"width": 457, "height": 166, "title": {"text": "PQRFE", "dx": -30},
  "layer": [
   {"data": {"name": "band"}, "transform": [{"filter": "datum.panel === 'IQ'"}], "mark": {"type": "area", "color": "#b3b3b3", "clip": true},
    "encoding": {"x": {"field": "tau", "type": "quantitative", "title": null, "scale": {"domain": [0.005, 0.996]}, "axis": {"values": [0.05, 0.2, 0.4, 0.6, 0.8, 0.95], "format": ".2f"}},
     "y": {"field": "lo", "type": "quantitative", "title": null, "scale": {"domain": [4.19, 6.33], "zero": false, "nice": false}, "axis": {"values": [4.5, 5.0, 5.5, 6.0], "format": ".1f"}}, "y2": {"field": "hi"}}},
   {"data": {"name": "line"}, "transform": [{"filter": "datum.panel === 'IQ'"}], "mark": {"type": "line", "color": "black", "strokeWidth": 3, "clip": true},
    "encoding": {"x": {"field": "tau", "type": "quantitative", "title": null}, "y": {"field": "est", "type": "quantitative", "title": null}}}
  ]},
 {"width": 457, "height": 166,
  "layer": [
   {"data": {"name": "band"}, "transform": [{"filter": "datum.panel === 'EP'"}], "mark": {"type": "area", "color": "#b3b3b3", "interpolate": "monotone", "clip": true},
    "encoding": {"x": {"field": "tau", "type": "quantitative", "title": null, "scale": {"domain": [0.005, 0.996]}, "axis": {"values": [0.05, 0.2, 0.4, 0.6, 0.8, 0.95], "format": ".2f"}},
     "y": {"field": "lo", "type": "quantitative", "title": "ED", "scale": {"domain": [0.0848, 0.1533], "zero": false, "nice": false}, "axis": {"values": [0.10, 0.12, 0.14], "format": ".2f"}}, "y2": {"field": "hi"}}},
   {"data": {"name": "line"}, "transform": [{"filter": "datum.panel === 'EP'"}], "mark": {"type": "line", "color": "black", "strokeWidth": 3, "interpolate": "monotone", "clip": true},
    "encoding": {"x": {"field": "tau", "type": "quantitative", "title": null}, "y": {"field": "est", "type": "quantitative", "title": "ED"}}}
  ]},
 {"width": 457, "height": 166,
  "layer": [
   {"data": {"name": "band"}, "transform": [{"filter": "datum.panel === 'EQ'"}], "mark": {"type": "area", "color": "#b3b3b3", "clip": true},
    "encoding": {"x": {"field": "tau", "type": "quantitative", "title": null, "scale": {"domain": [0.005, 0.996]}, "axis": {"values": [0.05, 0.2, 0.4, 0.6, 0.8, 0.95], "format": ".2f"}},
     "y": {"field": "lo", "type": "quantitative", "title": null, "scale": {"domain": [0.0363, 0.0815], "zero": false, "nice": false}, "axis": {"values": [0.04, 0.05, 0.06, 0.07, 0.08], "format": ".2f"}}, "y2": {"field": "hi"}}},
   {"data": {"name": "line"}, "transform": [{"filter": "datum.panel === 'EQ'"}], "mark": {"type": "line", "color": "black", "strokeWidth": 3, "clip": true},
    "encoding": {"x": {"field": "tau", "type": "quantitative", "title": null}, "y": {"field": "est", "type": "quantitative", "title": null}}}
  ]},
 {"width": 457, "height": 166,
  "layer": [
   {"data": {"name": "band"}, "transform": [{"filter": "datum.panel === 'FP'"}], "mark": {"type": "area", "color": "#b3b3b3", "interpolate": "monotone", "clip": true},
    "encoding": {"x": {"field": "tau", "type": "quantitative", "title": null, "scale": {"domain": [0.005, 0.996]}, "axis": {"values": [0.05, 0.2, 0.4, 0.6, 0.8, 0.95], "format": ".2f"}},
     "y": {"field": "lo", "type": "quantitative", "title": "FEM", "scale": {"domain": [-0.6365, -0.1616], "zero": false, "nice": false}, "axis": {"values": [-0.6, -0.5, -0.4, -0.3, -0.2], "format": ".1f"}}, "y2": {"field": "hi"}}},
   {"data": {"name": "line"}, "transform": [{"filter": "datum.panel === 'FP'"}], "mark": {"type": "line", "color": "black", "strokeWidth": 3, "interpolate": "monotone", "clip": true},
    "encoding": {"x": {"field": "tau", "type": "quantitative", "title": null}, "y": {"field": "est", "type": "quantitative", "title": "FEM"}}}
  ]},
 {"width": 457, "height": 166,
  "layer": [
   {"data": {"name": "band"}, "transform": [{"filter": "datum.panel === 'FQ'"}], "mark": {"type": "area", "color": "#b3b3b3", "clip": true},
    "encoding": {"x": {"field": "tau", "type": "quantitative", "title": null, "scale": {"domain": [0.005, 0.996]}, "axis": {"values": [0.05, 0.2, 0.4, 0.6, 0.8, 0.95], "format": ".2f"}},
     "y": {"field": "lo", "type": "quantitative", "title": null, "scale": {"domain": [-0.627, 0.033], "zero": false, "nice": false}, "axis": {"values": [-0.6, -0.4, -0.2, 0.0], "format": ".1f"}}, "y2": {"field": "hi"}}},
   {"data": {"name": "line"}, "transform": [{"filter": "datum.panel === 'FQ'"}], "mark": {"type": "line", "color": "black", "strokeWidth": 3, "clip": true},
    "encoding": {"x": {"field": "tau", "type": "quantitative", "title": null}, "y": {"field": "est", "type": "quantitative", "title": null}}}
  ]},
 {"width": 457, "height": 166,
  "layer": [
   {"data": {"name": "band"}, "transform": [{"filter": "datum.panel === 'BP'"}], "mark": {"type": "area", "color": "#c4c4c4", "interpolate": "monotone", "clip": true},
    "encoding": {"x": {"field": "tau", "type": "quantitative", "title": "τ", "scale": {"domain": [0.005, 0.996]}, "axis": {"values": [0.05, 0.2, 0.4, 0.6, 0.8, 0.95], "format": ".2f"}},
     "y": {"field": "lo", "type": "quantitative", "title": "BLK", "scale": {"domain": [-0.571, 0.036], "zero": false, "nice": false}, "axis": {"values": [-0.4, -0.2, 0.0], "format": ".1f"}}, "y2": {"field": "hi"}}},
   {"data": {"name": "line"}, "transform": [{"filter": "datum.panel === 'BP'"}], "mark": {"type": "line", "color": "#555555", "strokeWidth": 3.6, "interpolate": "monotone", "clip": true},
    "encoding": {"x": {"field": "tau", "type": "quantitative", "title": "τ"}, "y": {"field": "est", "type": "quantitative", "title": "BLK"}}}
  ]},
 {"width": 457, "height": 166,
  "layer": [
   {"data": {"name": "band"}, "transform": [{"filter": "datum.panel === 'BQ'"}], "mark": {"type": "area", "color": "#b3b3b3", "clip": true},
    "encoding": {"x": {"field": "tau", "type": "quantitative", "title": "τ", "scale": {"domain": [0.005, 0.996]}, "axis": {"values": [0.05, 0.2, 0.4, 0.6, 0.8, 0.95], "format": ".2f"}},
     "y": {"field": "lo", "type": "quantitative", "title": null, "scale": {"domain": [-0.324, 0.016], "zero": false, "nice": false}, "axis": {"values": [-0.3, -0.2, -0.1, 0.0], "format": ".1f"}}, "y2": {"field": "hi"}}},
   {"data": {"name": "line"}, "transform": [{"filter": "datum.panel === 'BQ'"}], "mark": {"type": "line", "color": "black", "strokeWidth": 3, "clip": true},
    "encoding": {"x": {"field": "tau", "type": "quantitative", "title": "τ"}, "y": {"field": "est", "type": "quantitative", "title": null}}}
  ]}
]
}
